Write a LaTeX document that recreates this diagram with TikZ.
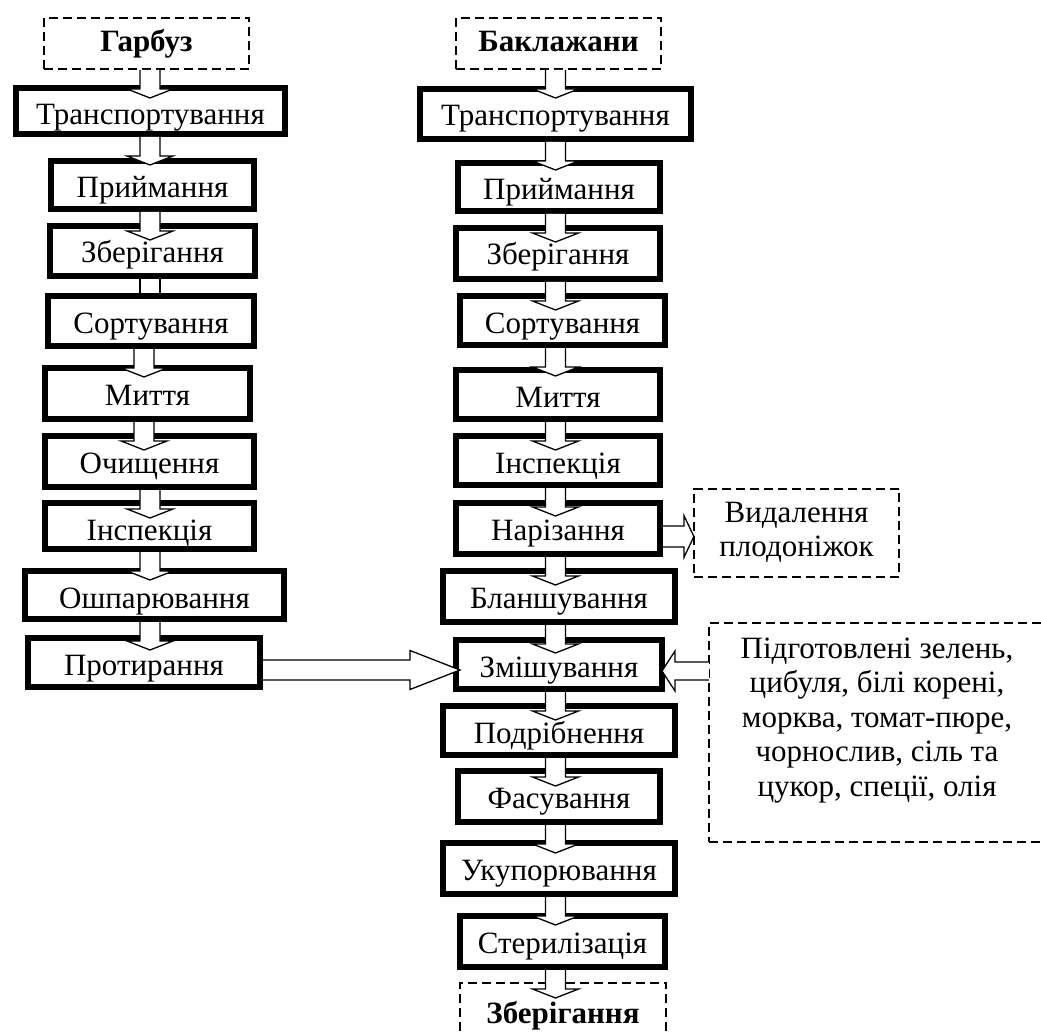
\documentclass[tikz,border=0pt]{standalone}
\usepackage{fontspec}
\setmainfont{Liberation Serif}
\usetikzlibrary{calc}
% generic box: style, half line width, name, x1, x2, y1, y2, baseline offset, text
\newcommand\gbox[9]{%
  \pgfmathsetmacro\gw{#5-#4-2*#2}%
  \pgfmathsetmacro\gh{#8-#2}%
  \pgfmathsetmacro\gd{#7-#6-#8-#2}%
  \pgfmathsetmacro\gx{(#4+#5)/2}%
  \pgfmathsetmacro\gy{#6+#8}%
  \node[#1, minimum width=\gw pt, text height=\gh pt, text depth=\gd pt, anchor=base] (#3) at (\gx,\gy) {#9};%
}
% vertical block arrow below a node: source, column coordinate, half line width of source
\newcommand\varr[3]{%
  \coordinate (vs) at ($(#1.south -| #2)+(0,#3)$);%
  \fill[white] ($(vs)+(-10,0)$) -- ++(0,19) -- ++(-13,0) -- ++(23,9) -- ++(23,-9) -- ++(-13,0) -- ++(0,-19) -- cycle;%
  \draw[aline] ($(vs)+(-10,0)$) -- ++(0,19) -- ++(-13,0) -- ++(23,9) -- ++(23,-9) -- ++(-13,0) -- ++(0,-19);%
}
% horizontal block arrow: start, tip, shaft half, head half, signed head length
\newcommand\harr[5]{%
  \fill[white] ($(#1)+(0,-#3)$) -- ($(#2)+({-1*(#5)},-#3)$) -- ($(#2)+({-1*(#5)},-#4)$) -- (#2) -- ($(#2)+({-1*(#5)},#4)$) -- ($(#2)+({-1*(#5)},#3)$) -- ($(#1)+(0,#3)$) -- cycle;%
  \draw[aline] ($(#1)+(0,-#3)$) -- ($(#2)+({-1*(#5)},-#3)$) -- ($(#2)+({-1*(#5)},-#4)$) -- (#2) -- ($(#2)+({-1*(#5)},#4)$) -- ($(#2)+({-1*(#5)},#3)$) -- ($(#1)+(0,#3)$);%
}
\begin{document}
\begin{tikzpicture}[x=1pt,y=-1pt,
  tbox/.style={draw, line width=6pt, inner sep=0pt, outer sep=0pt, font=\fontsize{31}{34.5}\selectfont},
  dbox/.style={draw, line width=1.8pt, dash pattern=on 9pt off 5pt, inner sep=0pt, outer sep=0pt, font=\fontsize{31}{34.5}\selectfont},
  aline/.style={draw, line width=1.3pt, line join=miter}]
\useasboundingbox (0,0) rectangle (1041,1032);
\clip (0,0) rectangle (1041,1032);
\coordinate (colL) at (150,0);
\coordinate (colLb) at (144,0);
\coordinate (colR) at (555.5,0);
\coordinate (hy1) at (0,670);
\coordinate (hy2) at (0,536.5);
\coordinate (hy3) at (0,671);

% left column
\gbox{dbox}{0.9}{gar}{43}{250}{17}{70}{35}{\bfseries Гарбуз}
\gbox{tbox}{3}{lt}{13}{288}{85}{137}{40}{Транспортування}
\gbox{tbox}{3}{lp}{48}{257}{158}{212}{40}{Приймання}
\gbox{tbox}{3}{lz}{47}{258}{223}{279}{40}{Зберігання}
\gbox{tbox}{3}{ls}{45}{257}{293}{349}{40}{Сортування}
\gbox{tbox}{3}{lm}{42}{253}{365}{422}{40}{Миття}
\gbox{tbox}{3}{lo}{42}{257}{433}{490}{40}{Очищення}
\gbox{tbox}{3}{li}{42}{257}{500}{552}{40}{Інспекція}
\gbox{tbox}{3}{losh}{22}{287}{568}{622}{40}{Ошпарювання}
\gbox{tbox}{3}{lprot}{25}{263}{635}{690}{40}{Протирання}

% right column
\gbox{dbox}{0.9}{bak}{455}{662}{17}{70}{35}{\bfseries Баклажани}
\gbox{tbox}{3}{rt}{417}{694}{86}{142}{40}{Транспортування}
\gbox{tbox}{3}{rp}{455}{663}{160}{214}{40}{Приймання}
\gbox{tbox}{3}{rz}{453}{663}{225}{282}{40}{Зберігання}
\gbox{tbox}{3}{rs}{457}{668}{293}{348}{40}{Сортування}
\gbox{tbox}{3}{rm}{453}{663}{367}{422}{40}{Миття}
\gbox{tbox}{3}{ri}{453}{663}{433}{488}{40}{Інспекція}
\gbox{tbox}{3}{rn}{453}{663}{500}{557}{40}{Нарізання}
\gbox{tbox}{3}{rb}{440}{678}{568}{625}{40}{Бланшування}
\gbox{tbox}{3}{rzm}{453}{665}{637}{692}{40}{Змішування}
\gbox{tbox}{3}{rpod}{440}{678}{703}{758}{40}{Подрібнення}
\gbox{tbox}{3}{rf}{455}{663}{768}{825}{40}{Фасування}
\gbox{tbox}{3}{ru}{440}{678}{840}{897}{40}{Укупорювання}
\gbox{tbox}{3}{rst}{457}{668}{913}{970}{40}{Стерилізація}
\gbox{dbox}{0.9}{rzb}{459}{667}{982}{1050}{41}{\bfseries Зберігання}

% side boxes
\gbox{dbox}{0.9}{rem}{693}{900}{488}{578}{34}{\begin{tabular}[t]{@{}c@{}}Видалення\\плодоніжок\end{tabular}}
\gbox{dbox}{0.9}{ing}{708}{1046}{622}{843}{36}{\begin{tabular}[t]{@{}c@{}}Підготовлені зелень,\\цибуля, білі корені,\\морква, томат-пюре,\\чорнослив, сіль та\\цукор, спеції, олія\end{tabular}}

% left column arrows
\varr{gar}{colL}{0.9}
\varr{lt}{colL}{3}
\varr{lp}{colL}{3}
\fill[white] ($(lz.south -| colL)+(-10,3)$) rectangle ($(ls.north -| colL)+(10,-3)$);
\draw[aline] ($(lz.south -| colL)+(-10,3)$) -- ($(ls.north -| colL)+(-10,-3)$);
\draw[aline] ($(lz.south -| colL)+(10,3)$) -- ($(ls.north -| colL)+(10,-3)$);
\varr{ls}{colLb}{3}
\varr{lm}{colLb}{3}
\varr{lo}{colL}{3}
\varr{li}{colL}{3}
\varr{losh}{colL}{3}

% right column arrows
\varr{bak}{colR}{0.9}
\varr{rt}{colR}{3}
\varr{rp}{colR}{3}
\varr{rz}{colR}{3}
\varr{rs}{colR}{3}
\varr{rm}{colR}{3}
\varr{ri}{colR}{3}
\varr{rn}{colR}{3}
\varr{rb}{colR}{3}
\varr{rzm}{colR}{3}
\varr{rpod}{colR}{3}
\varr{rf}{colR}{3}
\varr{ru}{colR}{3}
\varr{rst}{colR}{3}

% horizontal arrows
\coordinate (h1s) at ($(lprot.east |- hy1)+(3,0)$);
\coordinate (h1t) at ($(rzm.west |- hy1)+(4,0)$);
\harr{h1s}{h1t}{10}{19.5}{50}
\coordinate (h2s) at ($(rn.east |- hy2)+(3,0)$);
\coordinate (h2t) at (rem.west |- hy2);
\harr{h2s}{h2t}{10.5}{21}{10}
\coordinate (h3s) at (ing.west |- hy3);
\coordinate (h3t) at (rzm.east |- hy3);
\harr{h3s}{h3t}{9}{20}{-13}
\end{tikzpicture}
\end{document}
